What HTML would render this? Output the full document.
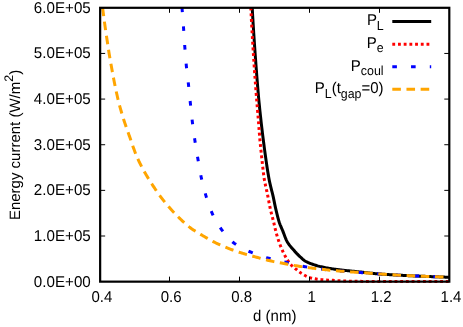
<!DOCTYPE html>
<html>
<head>
<meta charset="utf-8">
<title>Energy current vs d</title>
<style>
html, body { margin: 0; padding: 0; background: #fff; }
body { width: 463px; height: 327px; overflow: hidden; }
svg { display: block; }
text { font-family: "Liberation Sans", sans-serif; font-size: 15.0px; fill: #000; text-rendering: geometricPrecision; }
</style>
</head>
<body>
<svg width="463" height="327" viewBox="0 0 463 327">
<rect x="0" y="0" width="463" height="327" fill="#fff"/>
<defs><clipPath id="plot"><rect x="100.15" y="7.8" width="349.15" height="275.85"/></clipPath></defs>
<g fill="none" stroke-width="3" stroke-linejoin="round" clip-path="url(#plot)">
<path d="M252.20,7.60 L252.26,8.63 L252.31,9.65 L252.37,10.68 L252.43,11.70 L252.49,12.73 L252.55,13.76 L252.60,14.78 L252.66,15.81 L252.72,16.84 L252.78,17.86 L252.85,18.89 L252.91,19.91 L252.97,20.94 L253.03,21.97 L253.09,22.99 L253.16,24.02 L253.22,25.04 L253.28,26.07 L253.35,27.09 L253.41,28.12 L253.48,29.15 L253.54,30.17 L253.61,31.20 L253.67,32.22 L253.74,33.25 L253.81,34.27 L253.87,35.30 L253.94,36.32 L254.01,37.35 L254.08,38.37 L254.15,39.40 L254.22,40.43 L254.28,41.45 L254.35,42.48 L254.42,43.50 L254.49,44.53 L254.57,45.55 L254.64,46.58 L254.71,47.60 L254.78,48.63 L254.85,49.65 L254.92,50.68 L255.00,51.70 L255.07,52.73 L255.14,53.75 L255.22,54.78 L255.29,55.80 L255.37,56.83 L255.44,57.85 L255.52,58.88 L255.59,59.90 L255.67,60.92 L255.74,61.95 L255.82,62.97 L255.90,64.00 L255.97,65.02 L256.05,66.05 L256.13,67.07 L256.20,68.10 L256.28,69.12 L256.36,70.15 L256.44,71.17 L256.52,72.20 L256.59,73.22 L256.67,74.25 L256.75,75.27 L256.83,76.30 L256.91,77.32 L257.00,78.35 L257.08,79.37 L257.16,80.39 L257.24,81.42 L257.32,82.44 L257.41,83.47 L257.49,84.49 L257.58,85.52 L257.66,86.54 L257.75,87.57 L257.83,88.59 L257.92,89.61 L258.00,90.64 L258.09,91.66 L258.18,92.69 L258.27,93.71 L258.36,94.73 L258.45,95.76 L258.54,96.78 L258.63,97.80 L258.72,98.83 L258.81,99.85 L258.91,100.88 L259.01,101.90 L259.11,102.92 L259.22,103.94 L259.32,104.97 L259.42,105.99 L259.53,107.01 L259.63,108.04 L259.74,109.06 L259.84,110.08 L259.95,111.10 L260.06,112.13 L260.17,113.15 L260.27,114.17 L260.38,115.19 L260.49,116.21 L260.61,117.24 L260.72,118.26 L260.83,119.28 L260.95,120.30 L261.06,121.32 L261.18,122.34 L261.29,123.37 L261.41,124.39 L261.53,125.41 L261.65,126.43 L261.77,127.45 L261.89,128.47 L262.01,129.49 L262.13,130.51 L262.26,131.54 L262.38,132.56 L262.51,133.58 L262.64,134.60 L262.76,135.62 L262.89,136.64 L263.02,137.66 L263.15,138.68 L263.28,139.70 L263.41,140.72 L263.54,141.74 L263.67,142.76 L263.80,143.78 L263.93,144.80 L264.07,145.82 L264.20,146.84 L264.33,147.86 L264.47,148.88 L264.60,149.90 L264.74,150.92 L264.88,151.94 L265.02,152.96 L265.16,153.97 L265.30,154.99 L265.44,156.01 L265.59,157.03 L265.73,158.05 L265.87,159.06 L266.02,160.08 L266.17,161.10 L266.32,162.12 L266.47,163.13 L266.62,164.15 L266.77,165.17 L266.92,166.18 L267.07,167.20 L267.23,168.21 L267.38,169.23 L267.54,170.24 L267.70,171.26 L267.86,172.27 L268.03,173.29 L268.21,174.30 L268.38,175.31 L268.54,176.32 L268.71,177.33 L268.89,178.34 L269.08,179.34 L269.28,180.34 L269.49,181.34 L269.71,182.34 L269.94,183.34 L270.17,184.34 L270.41,185.33 L270.65,186.33 L270.89,187.32 L271.14,188.31 L271.37,189.31 L271.62,190.30 L271.89,191.30 L272.16,192.30 L272.41,193.30 L272.66,194.30 L272.89,195.30 L273.12,196.31 L273.34,197.31 L273.55,198.32 L273.76,199.33 L273.96,200.34 L274.17,201.35 L274.37,202.36 L274.57,203.38 L274.77,204.39 L274.98,205.40 L275.19,206.40 L275.41,207.41 L275.64,208.41 L275.87,209.42 L276.11,210.42 L276.35,211.43 L276.59,212.43 L276.83,213.44 L277.08,214.44 L277.33,215.44 L277.58,216.44 L277.84,217.44 L278.10,218.43 L278.37,219.42 L278.66,220.41 L278.95,221.39 L279.26,222.36 L279.58,223.33 L279.95,224.29 L280.33,225.24 L280.74,226.19 L281.15,227.13 L281.57,228.07 L281.99,229.02 L282.39,229.97 L282.77,230.92 L283.14,231.89 L283.51,232.86 L283.87,233.84 L284.23,234.81 L284.59,235.79 L284.96,236.76 L285.34,237.72 L285.73,238.66 L286.14,239.60 L286.58,240.51 L287.04,241.40 L287.53,242.27 L288.06,243.13 L288.62,243.97 L289.22,244.80 L289.84,245.62 L290.49,246.43 L291.15,247.23 L291.83,248.02 L292.52,248.81 L293.21,249.58 L293.91,250.36 L294.61,251.12 L295.30,251.89 L295.99,252.64 L296.69,253.40 L297.40,254.14 L298.12,254.87 L298.85,255.60 L299.59,256.32 L300.34,257.02 L301.09,257.72 L301.85,258.41 L302.62,259.10 L303.41,259.77 L304.23,260.38 L305.08,260.94 L305.97,261.46 L306.88,261.95 L307.81,262.41 L308.74,262.83 L309.68,263.23 L310.64,263.60 L311.61,263.95 L312.58,264.28 L313.56,264.61 L314.54,264.92 L315.52,265.24 L316.50,265.55 L317.49,265.85 L318.48,266.12 L319.47,266.37 L320.47,266.60 L321.47,266.83 L322.48,267.05 L323.49,267.26 L324.49,267.47 L325.50,267.66 L326.52,267.85 L327.53,268.03 L328.54,268.21 L329.55,268.38 L330.56,268.55 L331.58,268.72 L332.59,268.88 L333.61,269.03 L334.63,269.18 L335.65,269.33 L336.67,269.47 L337.68,269.61 L338.70,269.74 L339.72,269.86 L340.74,269.99 L341.76,270.10 L342.78,270.21 L343.81,270.32 L344.83,270.43 L345.85,270.53 L346.87,270.63 L347.90,270.74 L348.92,270.84 L349.94,270.94 L350.97,271.04 L351.99,271.15 L353.01,271.25 L354.03,271.36 L355.06,271.47 L356.08,271.58 L357.10,271.68 L358.12,271.79 L359.14,271.90 L360.17,272.00 L361.19,272.11 L362.21,272.22 L363.23,272.33 L364.26,272.44 L365.28,272.54 L366.30,272.65 L367.32,272.77 L368.34,272.88 L369.36,273.00 L370.38,273.12 L371.41,273.24 L372.43,273.35 L373.45,273.46 L374.47,273.56 L375.50,273.66 L376.52,273.74 L377.54,273.83 L378.57,273.91 L379.59,273.99 L380.62,274.06 L381.64,274.14 L382.67,274.21 L383.69,274.28 L384.72,274.35 L385.74,274.42 L386.77,274.49 L387.79,274.55 L388.82,274.62 L389.85,274.68 L390.87,274.74 L391.90,274.80 L392.92,274.86 L393.95,274.92 L394.98,274.98 L396.00,275.03 L397.03,275.09 L398.06,275.15 L399.08,275.20 L400.11,275.26 L401.14,275.31 L402.16,275.36 L403.19,275.41 L404.21,275.46 L405.24,275.51 L406.27,275.56 L407.29,275.61 L408.32,275.66 L409.35,275.70 L410.38,275.75 L411.40,275.79 L412.43,275.84 L413.46,275.88 L414.48,275.93 L415.51,275.97 L416.54,276.02 L417.56,276.06 L418.59,276.10 L419.62,276.14 L420.64,276.18 L421.67,276.22 L422.70,276.26 L423.72,276.31 L424.75,276.35 L425.78,276.39 L426.81,276.43 L427.83,276.47 L428.86,276.51 L429.89,276.55 L430.91,276.59 L431.94,276.63 L432.97,276.67 L433.99,276.71 L435.02,276.75 L436.05,276.79 L437.08,276.83 L438.10,276.87 L439.13,276.91 L440.16,276.95 L441.18,276.99 L442.21,277.03 L443.24,277.06 L444.26,277.10 L445.29,277.14 L446.32,277.18 L447.35,277.22 L448.37,277.26 L449.40,277.30" stroke="#000"/>
<path d="M250.80,7.60 L250.85,8.66 L250.90,9.73 L250.96,10.79 L251.01,11.86 L251.06,12.92 L251.12,13.99 L251.17,15.05 L251.23,16.12 L251.28,17.18 L251.34,18.25 L251.39,19.31 L251.45,20.38 L251.51,21.44 L251.56,22.51 L251.62,23.57 L251.68,24.64 L251.74,25.70 L251.79,26.76 L251.85,27.83 L251.91,28.89 L251.97,29.96 L252.03,31.02 L252.09,32.09 L252.15,33.15 L252.21,34.22 L252.28,35.28 L252.34,36.34 L252.40,37.41 L252.46,38.47 L252.53,39.54 L252.59,40.60 L252.65,41.66 L252.72,42.73 L252.78,43.79 L252.85,44.86 L252.91,45.92 L252.98,46.98 L253.04,48.05 L253.11,49.11 L253.17,50.18 L253.24,51.24 L253.31,52.30 L253.37,53.37 L253.44,54.43 L253.51,55.50 L253.58,56.56 L253.65,57.62 L253.71,58.69 L253.78,59.75 L253.85,60.81 L253.92,61.88 L253.99,62.94 L254.06,64.00 L254.13,65.07 L254.21,66.13 L254.28,67.20 L254.35,68.26 L254.42,69.32 L254.50,70.39 L254.57,71.45 L254.64,72.51 L254.72,73.58 L254.79,74.64 L254.87,75.70 L254.94,76.77 L255.02,77.83 L255.10,78.89 L255.17,79.96 L255.25,81.02 L255.33,82.08 L255.41,83.15 L255.49,84.21 L255.56,85.27 L255.64,86.34 L255.72,87.40 L255.80,88.46 L255.88,89.53 L255.97,90.59 L256.05,91.65 L256.13,92.72 L256.21,93.78 L256.29,94.84 L256.38,95.90 L256.46,96.97 L256.55,98.03 L256.63,99.09 L256.71,100.16 L256.80,101.22 L256.89,102.28 L256.97,103.34 L257.06,104.41 L257.14,105.47 L257.23,106.53 L257.32,107.59 L257.41,108.66 L257.50,109.72 L257.58,110.78 L257.67,111.84 L257.76,112.90 L257.85,113.97 L257.94,115.03 L258.04,116.09 L258.13,117.15 L258.22,118.21 L258.31,119.28 L258.40,120.34 L258.48,121.40 L258.55,122.46 L258.63,123.52 L258.71,124.58 L258.79,125.65 L258.87,126.71 L258.95,127.77 L259.03,128.83 L259.12,129.89 L259.20,130.95 L259.28,132.02 L259.36,133.08 L259.45,134.14 L259.53,135.20 L259.62,136.26 L259.71,137.32 L259.79,138.38 L259.88,139.45 L259.97,140.51 L260.08,141.57 L260.18,142.63 L260.29,143.69 L260.39,144.75 L260.50,145.81 L260.61,146.87 L260.72,147.93 L260.82,148.99 L260.93,150.05 L261.04,151.11 L261.15,152.18 L261.26,153.24 L261.38,154.30 L261.49,155.36 L261.60,156.42 L261.71,157.48 L261.83,158.54 L261.94,159.60 L262.06,160.66 L262.17,161.72 L262.29,162.78 L262.41,163.84 L262.52,164.89 L262.64,165.95 L262.76,167.01 L262.88,168.07 L263.00,169.13 L263.12,170.19 L263.24,171.25 L263.36,172.31 L263.49,173.37 L263.62,174.43 L263.75,175.49 L263.89,176.54 L264.04,177.60 L264.20,178.65 L264.38,179.70 L264.56,180.75 L264.76,181.79 L264.96,182.84 L265.18,183.88 L265.40,184.93 L265.63,185.97 L265.86,187.01 L266.09,188.05 L266.32,189.09 L266.56,190.13 L266.79,191.18 L267.02,192.22 L267.24,193.26 L267.46,194.31 L267.67,195.35 L267.88,196.40 L268.08,197.44 L268.28,198.49 L268.48,199.54 L268.67,200.59 L268.87,201.64 L269.07,202.68 L269.27,203.73 L269.48,204.78 L269.68,205.82 L269.90,206.87 L270.12,207.91 L270.34,208.95 L270.58,209.99 L270.83,211.02 L271.08,212.06 L271.34,213.09 L271.60,214.13 L271.87,215.16 L272.14,216.19 L272.41,217.22 L272.68,218.25 L272.94,219.29 L273.21,220.32 L273.47,221.35 L273.72,222.39 L273.97,223.43 L274.21,224.47 L274.44,225.51 L274.68,226.55 L274.92,227.59 L275.16,228.62 L275.41,229.66 L275.68,230.69 L275.95,231.72 L276.22,232.75 L276.50,233.78 L276.79,234.81 L277.08,235.84 L277.39,236.86 L277.70,237.88 L278.02,238.89 L278.35,239.90 L278.69,240.91 L279.04,241.92 L279.40,242.92 L279.77,243.93 L280.14,244.93 L280.53,245.93 L280.92,246.92 L281.32,247.91 L281.73,248.90 L282.15,249.88 L282.58,250.86 L283.02,251.83 L283.46,252.79 L283.92,253.75 L284.39,254.70 L284.89,255.65 L285.40,256.58 L285.93,257.51 L286.48,258.43 L287.04,259.34 L287.60,260.24 L288.18,261.14 L288.78,262.04 L289.40,262.91 L290.05,263.75 L290.73,264.55 L291.47,265.30 L292.26,266.01 L293.08,266.71 L293.91,267.39 L294.74,268.08 L295.54,268.77 L296.34,269.48 L297.15,270.18 L297.97,270.87 L298.80,271.53 L299.66,272.16 L300.53,272.77 L301.42,273.37 L302.32,273.95 L303.23,274.50 L304.15,275.03 L305.09,275.54 L306.04,276.04 L307.00,276.51 L307.98,276.94 L308.97,277.32 L309.97,277.64 L311.00,277.94 L312.04,278.20 L313.08,278.44 L314.13,278.65 L315.18,278.84 L316.23,279.01 L317.28,279.16 L318.34,279.31 L319.40,279.44 L320.46,279.56 L321.52,279.66 L322.58,279.76 L323.64,279.84 L324.71,279.93 L325.77,280.00 L326.84,280.07 L327.90,280.13 L328.96,280.18 L330.03,280.23 L331.09,280.27 L332.16,280.32 L333.22,280.37 L334.29,280.42 L335.35,280.49 L336.42,280.56 L337.48,280.63 L338.54,280.70 L339.61,280.77 L340.67,280.82 L341.74,280.87 L342.80,280.91 L343.87,280.96 L344.93,281.00 L346.00,281.05 L347.06,281.09 L348.13,281.13 L349.20,281.16 L350.26,281.20 L351.33,281.23 L352.39,281.25 L353.46,281.27 L354.52,281.29 L355.59,281.31 L356.66,281.32 L357.72,281.34 L358.79,281.35 L359.85,281.36 L360.92,281.37 L361.98,281.38 L363.05,281.39 L364.12,281.40 L365.18,281.41 L366.25,281.42 L367.31,281.43 L368.38,281.44 L369.45,281.45 L370.51,281.46 L371.58,281.46 L372.65,281.47 L373.71,281.47 L374.78,281.48 L375.84,281.49 L376.91,281.49 L377.98,281.49 L379.04,281.50 L380.11,281.50 L381.17,281.50 L382.24,281.51 L383.31,281.51 L384.37,281.51 L385.44,281.51 L386.50,281.52 L387.57,281.52 L388.64,281.52 L389.70,281.52 L390.77,281.53 L391.83,281.53 L392.90,281.53 L393.97,281.53 L395.03,281.54 L396.10,281.54 L397.16,281.54 L398.23,281.54 L399.30,281.54 L400.36,281.54 L401.43,281.55 L402.49,281.55 L403.56,281.55 L404.63,281.55 L405.69,281.55 L406.76,281.55 L407.82,281.55 L408.89,281.55 L409.96,281.55 L411.02,281.55 L412.09,281.55 L413.15,281.55 L414.22,281.55 L415.29,281.55 L416.35,281.55 L417.42,281.55 L418.48,281.55 L419.55,281.55 L420.62,281.55 L421.68,281.55 L422.75,281.55 L423.82,281.55 L424.88,281.55 L425.95,281.55 L427.01,281.55 L428.08,281.55 L429.15,281.55 L430.21,281.55 L431.28,281.55 L432.34,281.55 L433.41,281.55 L434.48,281.55 L435.54,281.55 L436.61,281.55 L437.67,281.55 L438.74,281.55 L439.81,281.55 L440.87,281.55 L441.94,281.55 L443.00,281.55 L444.07,281.55 L445.14,281.55 L446.20,281.55 L447.27,281.55 L448.33,281.55 L449.40,281.55" stroke="#ff0000" stroke-dasharray="2.85 2.85"/>
<path d="M182.00,7.60 L182.09,8.77 L182.18,9.93 L182.27,11.10 L182.37,12.26 L182.46,13.43 L182.55,14.59 L182.64,15.76 L182.73,16.92 L182.82,18.09 L182.91,19.26 L183.00,20.42 L183.09,21.59 L183.18,22.75 L183.28,23.92 L183.37,25.08 L183.44,26.25 L183.52,27.41 L183.60,28.58 L183.67,29.75 L183.75,30.91 L183.82,32.08 L183.90,33.24 L183.97,34.41 L184.05,35.58 L184.12,36.74 L184.20,37.91 L184.27,39.07 L184.35,40.24 L184.42,41.40 L184.50,42.57 L184.58,43.73 L184.66,44.90 L184.75,46.07 L184.83,47.23 L184.92,48.40 L185.00,49.56 L185.09,50.73 L185.18,51.89 L185.26,53.06 L185.35,54.22 L185.45,55.39 L185.54,56.55 L185.63,57.71 L185.73,58.88 L185.83,60.04 L185.92,61.21 L186.02,62.37 L186.12,63.53 L186.23,64.70 L186.33,65.86 L186.45,67.02 L186.56,68.18 L186.69,69.34 L186.82,70.50 L186.95,71.67 L187.09,72.83 L187.22,73.98 L187.37,75.14 L187.51,76.30 L187.65,77.46 L187.79,78.62 L187.93,79.78 L188.07,80.94 L188.20,82.10 L188.33,83.26 L188.46,84.42 L188.58,85.59 L188.71,86.75 L188.83,87.91 L188.94,89.07 L189.06,90.23 L189.18,91.40 L189.29,92.56 L189.41,93.72 L189.52,94.88 L189.64,96.04 L189.75,97.21 L189.87,98.37 L189.98,99.53 L190.10,100.69 L190.22,101.85 L190.34,103.02 L190.46,104.18 L190.58,105.34 L190.70,106.50 L190.81,107.66 L190.93,108.83 L191.05,109.99 L191.17,111.15 L191.29,112.31 L191.41,113.47 L191.53,114.64 L191.66,115.80 L191.78,116.96 L191.91,118.12 L192.04,119.28 L192.18,120.44 L192.31,121.60 L192.45,122.76 L192.60,123.92 L192.74,125.08 L192.89,126.23 L193.04,127.39 L193.20,128.55 L193.35,129.71 L193.51,130.86 L193.67,132.02 L193.83,133.18 L194.00,134.33 L194.16,135.49 L194.33,136.65 L194.50,137.80 L194.67,138.96 L194.84,140.11 L195.01,141.27 L195.19,142.42 L195.37,143.58 L195.55,144.73 L195.73,145.88 L195.91,147.04 L196.10,148.19 L196.28,149.34 L196.47,150.50 L196.66,151.65 L196.86,152.80 L197.05,153.95 L197.24,155.10 L197.44,156.26 L197.63,157.41 L197.83,158.56 L198.02,159.71 L198.22,160.86 L198.41,162.01 L198.61,163.17 L198.80,164.32 L199.00,165.47 L199.20,166.62 L199.40,167.77 L199.60,168.92 L199.81,170.07 L200.02,171.22 L200.24,172.37 L200.46,173.52 L200.68,174.66 L200.92,175.80 L201.15,176.95 L201.40,178.09 L201.65,179.23 L201.91,180.37 L202.17,181.50 L202.44,182.64 L202.71,183.78 L202.99,184.91 L203.28,186.05 L203.57,187.18 L203.87,188.31 L204.17,189.44 L204.48,190.57 L204.79,191.70 L205.10,192.82 L205.42,193.94 L205.75,195.06 L206.08,196.18 L206.41,197.30 L206.75,198.42 L207.10,199.54 L207.45,200.66 L207.81,201.78 L208.17,202.90 L208.54,204.01 L208.93,205.12 L209.32,206.22 L209.72,207.32 L210.13,208.41 L210.55,209.50 L210.98,210.58 L211.43,211.64 L211.89,212.70 L212.37,213.76 L212.86,214.81 L213.36,215.85 L213.88,216.90 L214.41,217.94 L214.95,218.97 L215.51,220.00 L216.09,221.03 L216.68,222.04 L217.27,223.05 L217.89,224.05 L218.51,225.03 L219.14,226.01 L219.78,226.98 L220.43,227.93 L221.08,228.87 L221.74,229.80 L222.42,230.73 L223.12,231.67 L223.82,232.60 L224.55,233.53 L225.29,234.45 L226.05,235.36 L226.83,236.26 L227.62,237.15 L228.43,238.02 L229.25,238.87 L230.09,239.70 L230.93,240.50 L231.79,241.27 L232.66,242.02 L233.55,242.73 L234.44,243.41 L235.37,244.06 L236.31,244.71 L237.29,245.33 L238.28,245.95 L239.29,246.54 L240.31,247.12 L241.35,247.69 L242.41,248.24 L243.47,248.78 L244.53,249.31 L245.60,249.82 L246.68,250.32 L247.75,250.81 L248.82,251.29 L249.89,251.75 L250.95,252.21 L252.02,252.65 L253.10,253.09 L254.19,253.52 L255.28,253.94 L256.37,254.36 L257.47,254.76 L258.58,255.16 L259.69,255.54 L260.80,255.92 L261.91,256.29 L263.03,256.64 L264.15,256.99 L265.27,257.33 L266.39,257.66 L267.51,257.97 L268.63,258.28 L269.75,258.57 L270.88,258.86 L272.02,259.13 L273.15,259.39 L274.29,259.65 L275.43,259.90 L276.58,260.15 L277.72,260.40 L278.87,260.64 L280.01,260.88 L281.16,261.13 L282.30,261.37 L283.44,261.62 L284.58,261.88 L285.72,262.14 L286.86,262.40 L288.00,262.68 L289.13,262.96 L290.26,263.25 L291.40,263.54 L292.53,263.83 L293.66,264.12 L294.80,264.41 L295.93,264.70 L297.06,264.98 L298.20,265.26 L299.33,265.53 L300.47,265.78 L301.61,266.03 L302.75,266.26 L303.90,266.48 L305.04,266.69 L306.19,266.89 L307.34,267.08 L308.50,267.26 L309.65,267.44 L310.80,267.61 L311.96,267.78 L313.12,267.95 L314.28,268.11 L315.43,268.27 L316.59,268.43 L317.75,268.59 L318.91,268.74 L320.07,268.90 L321.23,269.05 L322.38,269.21 L323.54,269.37 L324.70,269.53 L325.86,269.69 L327.01,269.85 L328.17,269.99 L329.33,270.13 L330.49,270.25 L331.65,270.37 L332.82,270.48 L333.98,270.58 L335.14,270.69 L336.31,270.79 L337.47,270.89 L338.63,270.98 L339.80,271.07 L340.96,271.16 L342.13,271.25 L343.29,271.34 L344.46,271.42 L345.62,271.51 L346.79,271.59 L347.95,271.67 L349.12,271.76 L350.28,271.84 L351.45,271.92 L352.61,272.01 L353.78,272.09 L354.94,272.17 L356.11,272.25 L357.28,272.33 L358.44,272.40 L359.61,272.48 L360.77,272.56 L361.94,272.63 L363.10,272.71 L364.27,272.79 L365.43,272.87 L366.60,272.96 L367.76,273.05 L368.93,273.14 L370.09,273.24 L371.25,273.33 L372.42,273.42 L373.58,273.52 L374.75,273.61 L375.91,273.69 L377.08,273.78 L378.24,273.86 L379.41,273.94 L380.57,274.02 L381.74,274.11 L382.90,274.19 L384.07,274.27 L385.23,274.35 L386.40,274.42 L387.56,274.50 L388.73,274.58 L389.90,274.65 L391.06,274.73 L392.23,274.80 L393.39,274.87 L394.56,274.94 L395.72,275.01 L396.89,275.08 L398.06,275.14 L399.22,275.21 L400.39,275.27 L401.55,275.33 L402.72,275.39 L403.89,275.45 L405.05,275.51 L406.22,275.56 L407.39,275.61 L408.55,275.67 L409.72,275.72 L410.89,275.77 L412.05,275.82 L413.22,275.87 L414.39,275.92 L415.56,275.97 L416.72,276.02 L417.89,276.07 L419.06,276.12 L420.22,276.17 L421.39,276.21 L422.56,276.26 L423.72,276.31 L424.89,276.35 L426.06,276.40 L427.23,276.44 L428.39,276.49 L429.56,276.53 L430.73,276.58 L431.89,276.62 L433.06,276.67 L434.23,276.72 L435.40,276.76 L436.56,276.81 L437.73,276.85 L438.90,276.90 L440.06,276.94 L441.23,276.99 L442.40,277.03 L443.56,277.08 L444.73,277.12 L445.90,277.17 L447.07,277.21 L448.23,277.26 L449.40,277.30" stroke="#0000ff" stroke-dasharray="4.6 14.15"/>
<path d="M102.60,7.60 L102.76,8.87 L102.91,10.14 L103.07,11.41 L103.23,12.68 L103.39,13.95 L103.56,15.22 L103.72,16.49 L103.89,17.76 L104.06,19.03 L104.23,20.30 L104.40,21.56 L104.57,22.83 L104.75,24.10 L104.92,25.37 L105.10,26.63 L105.28,27.90 L105.46,29.17 L105.64,30.43 L105.83,31.70 L106.01,32.97 L106.20,34.23 L106.38,35.50 L106.57,36.76 L106.76,38.03 L106.95,39.29 L107.15,40.56 L107.34,41.82 L107.53,43.08 L107.73,44.35 L107.92,45.61 L108.11,46.88 L108.31,48.14 L108.50,49.40 L108.70,50.66 L108.89,51.93 L109.09,53.19 L109.29,54.45 L109.50,55.71 L109.71,56.98 L109.93,58.24 L110.15,59.50 L110.37,60.76 L110.59,62.02 L110.82,63.28 L111.04,64.54 L111.26,65.81 L111.49,67.07 L111.71,68.33 L111.95,69.59 L112.19,70.85 L112.42,72.11 L112.66,73.37 L112.90,74.63 L113.13,75.89 L113.37,77.15 L113.61,78.41 L113.85,79.67 L114.09,80.93 L114.33,82.19 L114.58,83.45 L114.83,84.72 L115.08,85.98 L115.33,87.24 L115.59,88.50 L115.86,89.76 L116.12,91.02 L116.40,92.27 L116.68,93.53 L116.97,94.78 L117.26,96.02 L117.53,97.27 L117.80,98.50 L118.09,99.74 L118.38,100.97 L118.69,102.20 L119.00,103.43 L119.33,104.66 L119.66,105.89 L120.00,107.11 L120.35,108.33 L120.71,109.56 L121.06,110.78 L121.40,111.99 L121.75,113.21 L122.11,114.42 L122.48,115.64 L122.85,116.85 L123.22,118.06 L123.60,119.27 L123.99,120.48 L124.38,121.69 L124.77,122.90 L125.18,124.10 L125.60,125.31 L126.01,126.51 L126.44,127.72 L126.86,128.92 L127.28,130.12 L127.71,131.32 L128.14,132.53 L128.57,133.73 L128.99,134.93 L129.42,136.13 L129.85,137.33 L130.26,138.53 L130.67,139.73 L131.08,140.93 L131.49,142.12 L131.89,143.32 L132.29,144.52 L132.69,145.72 L133.12,146.93 L133.56,148.13 L133.99,149.34 L134.44,150.54 L134.88,151.74 L135.34,152.94 L135.80,154.13 L136.28,155.31 L136.77,156.49 L137.27,157.65 L137.79,158.81 L138.32,159.96 L138.86,161.11 L139.41,162.26 L139.97,163.40 L140.55,164.54 L141.13,165.68 L141.72,166.81 L142.31,167.94 L142.92,169.07 L143.54,170.20 L144.16,171.32 L144.80,172.44 L145.44,173.55 L146.09,174.66 L146.74,175.77 L147.40,176.87 L148.07,177.97 L148.74,179.07 L149.42,180.16 L150.10,181.25 L150.79,182.33 L151.48,183.41 L152.18,184.49 L152.88,185.56 L153.58,186.62 L154.29,187.69 L155.00,188.74 L155.71,189.79 L156.43,190.84 L157.15,191.89 L157.88,192.93 L158.62,193.97 L159.37,195.01 L160.13,196.04 L160.89,197.07 L161.66,198.10 L162.44,199.12 L163.23,200.14 L164.02,201.15 L164.82,202.16 L165.63,203.16 L166.44,204.16 L167.26,205.15 L168.12,206.13 L168.98,207.11 L169.85,208.09 L170.73,209.05 L171.61,210.01 L172.50,210.96 L173.38,211.91 L174.28,212.85 L175.18,213.78 L176.08,214.70 L177.00,215.63 L177.90,216.55 L178.80,217.47 L179.71,218.38 L180.62,219.29 L181.55,220.18 L182.48,221.07 L183.42,221.95 L184.37,222.81 L185.33,223.67 L186.30,224.50 L187.27,225.33 L188.26,226.13 L189.25,226.92 L190.26,227.69 L191.28,228.45 L192.32,229.18 L193.37,229.89 L194.44,230.60 L195.52,231.29 L196.61,231.97 L197.71,232.64 L198.81,233.30 L199.91,233.96 L201.02,234.62 L202.12,235.27 L203.21,235.93 L204.31,236.58 L205.41,237.23 L206.52,237.88 L207.63,238.52 L208.74,239.16 L209.86,239.79 L210.98,240.40 L212.10,241.01 L213.23,241.61 L214.37,242.19 L215.51,242.75 L216.66,243.31 L217.82,243.85 L218.98,244.39 L220.15,244.91 L221.32,245.43 L222.50,245.94 L223.68,246.44 L224.86,246.93 L226.04,247.42 L227.23,247.89 L228.42,248.36 L229.61,248.82 L230.80,249.28 L232.00,249.73 L233.20,250.17 L234.41,250.60 L235.61,251.03 L236.82,251.45 L238.04,251.86 L239.25,252.26 L240.47,252.65 L241.69,253.03 L242.91,253.40 L244.13,253.77 L245.36,254.12 L246.59,254.48 L247.82,254.82 L249.06,255.17 L250.29,255.51 L251.52,255.85 L252.76,256.18 L253.99,256.52 L255.22,256.86 L256.46,257.21 L257.69,257.55 L258.92,257.90 L260.15,258.25 L261.39,258.59 L262.62,258.93 L263.85,259.27 L265.09,259.60 L266.33,259.92 L267.57,260.23 L268.81,260.53 L270.05,260.81 L271.30,261.08 L272.55,261.35 L273.81,261.60 L275.06,261.85 L276.32,262.09 L277.57,262.32 L278.83,262.55 L280.09,262.78 L281.35,263.01 L282.61,263.24 L283.87,263.47 L285.13,263.71 L286.38,263.94 L287.64,264.19 L288.90,264.43 L290.15,264.67 L291.41,264.91 L292.67,265.15 L293.92,265.38 L295.18,265.61 L296.44,265.82 L297.70,266.03 L298.96,266.24 L300.23,266.43 L301.49,266.63 L302.76,266.82 L304.02,267.00 L305.29,267.18 L306.56,267.36 L307.82,267.54 L309.09,267.71 L310.36,267.88 L311.63,268.04 L312.89,268.21 L314.16,268.37 L315.43,268.53 L316.70,268.69 L317.97,268.85 L319.24,269.01 L320.51,269.16 L321.78,269.32 L323.05,269.46 L324.32,269.61 L325.59,269.75 L326.86,269.88 L328.14,270.02 L329.41,270.14 L330.68,270.26 L331.95,270.38 L333.23,270.50 L334.50,270.61 L335.78,270.72 L337.05,270.83 L338.32,270.93 L339.60,271.03 L340.87,271.14 L342.15,271.23 L343.43,271.33 L344.70,271.43 L345.98,271.52 L347.25,271.62 L348.53,271.71 L349.80,271.80 L351.08,271.90 L352.36,271.99 L353.63,272.08 L354.91,272.17 L356.18,272.26 L357.46,272.34 L358.74,272.42 L360.01,272.51 L361.29,272.59 L362.56,272.67 L363.84,272.76 L365.12,272.85 L366.39,272.94 L367.67,273.04 L368.94,273.14 L370.22,273.25 L371.49,273.35 L372.77,273.45 L374.04,273.55 L375.32,273.65 L376.59,273.74 L377.87,273.83 L379.14,273.92 L380.42,274.01 L381.69,274.10 L382.97,274.19 L384.25,274.28 L385.52,274.37 L386.80,274.45 L388.08,274.53 L389.35,274.62 L390.63,274.70 L391.90,274.78 L393.18,274.86 L394.46,274.94 L395.73,275.01 L397.01,275.08 L398.29,275.16 L399.56,275.23 L400.84,275.29 L402.12,275.36 L403.40,275.42 L404.67,275.49 L405.95,275.55 L407.23,275.61 L408.51,275.67 L409.78,275.72 L411.06,275.78 L412.34,275.83 L413.62,275.89 L414.90,275.95 L416.17,276.00 L417.45,276.05 L418.73,276.11 L420.01,276.16 L421.28,276.21 L422.56,276.26 L423.84,276.31 L425.12,276.36 L426.40,276.41 L427.67,276.46 L428.95,276.51 L430.23,276.56 L431.51,276.61 L432.79,276.66 L434.06,276.71 L435.34,276.76 L436.62,276.81 L437.90,276.86 L439.18,276.91 L440.45,276.96 L441.73,277.01 L443.01,277.06 L444.29,277.11 L445.57,277.15 L446.84,277.20 L448.12,277.25 L449.40,277.30" stroke="#ffa500" stroke-dasharray="8.58 5.59"/>
</g>
<g fill="none" stroke-width="3">
<path d="M392.3,21.45 H431.2" stroke="#000"/>
<path d="M392.3,44.2 H431.2" stroke="#ff0000" stroke-dasharray="2.85 2.85"/>
<path d="M392.3,66.8 H431.2" stroke="#0000ff" stroke-dasharray="4.6 14.15"/>
<path d="M392.3,89.2 H431.2" stroke="#ffa500" stroke-dasharray="8.58 5.59"/>
</g>
<g fill="none" stroke="#000" stroke-width="1">
<path d="M169.50,281.65 V276.65 M169.50,7.8 V12.8"/>
<path d="M239.50,281.65 V276.65 M239.50,7.8 V12.8"/>
<path d="M309.50,281.65 V276.65 M309.50,7.8 V12.8"/>
<path d="M379.50,281.65 V276.65 M379.50,7.8 V12.8"/>
<path d="M100.15,236.01 H105.15 M449.3,236.01 H444.3"/>
<path d="M100.15,190.37 H105.15 M449.3,190.37 H444.3"/>
<path d="M100.15,144.72 H105.15 M449.3,144.72 H444.3"/>
<path d="M100.15,99.08 H105.15 M449.3,99.08 H444.3"/>
<path d="M100.15,53.44 H105.15 M449.3,53.44 H444.3"/>
</g>
<rect x="100.15" y="7.8" width="349.15" height="273.85" fill="none" stroke="#000" stroke-width="2.2"/>
<g style="filter:grayscale(1)">
<text transform="translate(101.85,301.70) scale(1,1.045)" text-anchor="middle">0.4</text>
<text transform="translate(171.20,301.70) scale(1,1.045)" text-anchor="middle">0.6</text>
<text transform="translate(241.60,301.70) scale(1,1.045)" text-anchor="middle">0.8</text>
<text transform="translate(311.70,301.70) scale(1,1.045)" text-anchor="middle">1</text>
<text transform="translate(381.20,301.70) scale(1,1.045)" text-anchor="middle">1.2</text>
<text transform="translate(451.00,301.70) scale(1,1.045)" text-anchor="middle">1.4</text>
<text transform="translate(90.75,286.60) scale(1.01,1.045)" text-anchor="end">0.0E+00</text>
<text transform="translate(90.75,240.96) scale(1.01,1.045)" text-anchor="end">1.0E+05</text>
<text transform="translate(90.75,195.32) scale(1.01,1.045)" text-anchor="end">2.0E+05</text>
<text transform="translate(90.75,149.67) scale(1.01,1.045)" text-anchor="end">3.0E+05</text>
<text transform="translate(90.75,104.03) scale(1.01,1.045)" text-anchor="end">4.0E+05</text>
<text transform="translate(90.75,58.39) scale(1.01,1.045)" text-anchor="end">5.0E+05</text>
<text transform="translate(90.75,12.75) scale(1.01,1.045)" text-anchor="end">6.0E+05</text>
<text transform="translate(274.73,321.10) scale(1,1.045)" text-anchor="middle">d (nm)</text>
<text transform="translate(19.50,144.97) rotate(-90) scale(1,1.0)" text-anchor="middle">Energy current (W/m<tspan font-size="12.4" dy="-7.0">2</tspan><tspan dy="7.0">)</tspan></text>
<text transform="translate(383.60,25.00) scale(1,1.045)" text-anchor="end">P<tspan font-size="12.4" dy="4.5" dx="-0.3">L</tspan></text>
<text transform="translate(383.60,47.60) scale(1,1.045)" text-anchor="end">P<tspan font-size="12.4" dy="4.5">e</tspan></text>
<text transform="translate(383.60,70.70) scale(1,1.045)" text-anchor="end">P<tspan font-size="12.4" dy="4.5">coul</tspan></text>
<text transform="translate(383.60,93.20) scale(1,1.045)" text-anchor="end">P<tspan font-size="12.4" dy="4.5">L</tspan><tspan dy="-4.5">(t</tspan><tspan font-size="12.4" dy="4.5">gap</tspan><tspan dy="-4.5">=0)</tspan></text>
</g>
</svg>
</body>
</html>
